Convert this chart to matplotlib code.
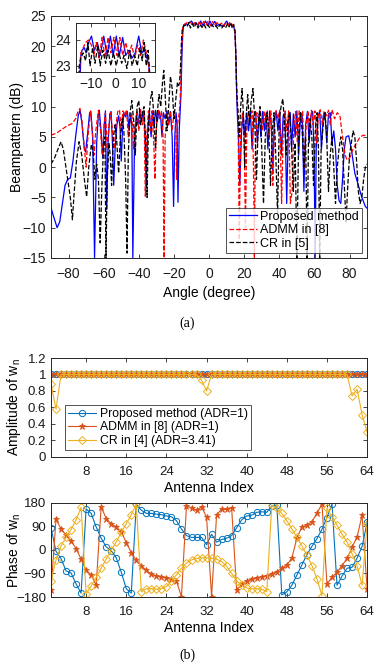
import matplotlib
matplotlib.use("Agg")
import matplotlib.pyplot as plt
import numpy as np

plt.rcParams['font.family'] = ['Liberation Sans', 'DejaVu Sans']
plt.rcParams['mathtext.fontset'] = 'custom'
plt.rcParams['mathtext.rm'] = 'Liberation Sans'
plt.rcParams['mathtext.it'] = 'Liberation Sans'

# ---- (a) beampattern (angle in degree, level in dB) ----
ang_prop = [-90, -88.5, -86.5, -85, -83.5, -82, -80.5, -79, -77.5, -76, -74.5, -73.5, -72.5, -71, -70.3,
            -69, -68, -67.3, -66.3, -65.2, -64, -63, -62.5, -61.5, -60.5, -59.7, -59, -58.3, -57.5, -56.5,
            -55.8, -55, -54.3, -53.5, -52.5, -51.5, -50.7, -50, -49.3, -48.5, -47.5, -46.5, -45.5, -44.8,
            -44, -43.4, -42.5, -41.5, -40.5, -39.5, -38.5, -37.5, -36.5, -35.8, -35, -34, -33, -32.2, -31.3,
            -30.5, -29.5, -28.5, -27.5, -26.8, -26, -25, -24, -23, -22, -21, -20.2, -19.5, -18.8, -18.2,
            -17.7, -17, -16.5, -16, -15.5, -15, -14.5,
            -14, -13, -12.3, -11.2, -10, -8.8, -7.5, -6.3, -4.8, -3.4, -2, -0.8, 0.5, 1.8, 3.2, 4.5, 5.8,
            7.2, 8.5, 10, 11.3, 12.5, 13.5, 14.3, 14.8, 15.3, 15.7, 16.2,
            16.8, 17.5, 18.5, 19.5, 20.5, 21.5, 22.5, 23.5, 24.5, 25.5, 26.5, 27.5, 28.5, 29.5, 30.5, 31.5,
            32.5, 33.5, 34.5, 35.5, 36.3, 37.2, 38.2, 39.2, 40.2, 41.2, 42.2, 43.2, 44.2, 45.2, 46.2, 47,
            48, 49, 50, 51, 52, 53, 54, 55, 56, 57, 58, 59, 59.8, 60.4, 61, 62, 63, 64, 65, 66, 67, 68, 69,
            70, 71, 72, 73, 74, 75, 76, 77, 78, 79.5, 81, 83, 85, 87, 89, 90]
bp_prop = [-6.7, -8.2, -10, -9, -6, -3, -2, -1.8, 1, 5, 8.5, 9.4, 7.5, 3, 2.5,
           6, 9, 9.2, 5, -15, 4, 8.8, 9.4, 6, 1.5, 7, 9.3, -7, 4, 8.8,
           9.2, 4, -3, 3, 7, 8.5, 6.5, 1, 6, 9, 8.3, 9.2, 6, 8.8,
           7, -15, 3, 8.5, 7, 9.2, 7.5, 9.3, 6, -3.5, 6, 9.3, 5, 9.3, 6.5,
           9.4, 7.5, 9.3, 8, 5, 9, 8, 9.3, 7, 9.2, 5, -6.5, 5, 9, 7,
           -5.8, 6, 9, 12, 18, 22, 23.4,
           23.6, 23.7, 23.5, 23.9, 24.15, 23.6, 23.9, 23.4, 24.15, 23.4, 24.15, 23.4, 24.15, 23.4, 24.1, 23.4, 23.6,
           23.3, 23.5, 24.15, 23.5, 23.6, 23.3, 23, 22, 18, 12, 8,
           5, -3, 6, 8.5, 5, 9, 6, 9.3, 3, 8.5, 9.2, 4, 8.8, 5, 9.2, 6,
           9, 3, 9.3, 7, -1, 8, 9.3, 6, 9.3, 2, 8.5, 9, -6, 7, 9, 3,
           8.8, 5, 9.3, 2, 8, 9, -4, 7, 9.2, 4, 8.5, 9.2, 2, -15, 3, 8.5, 9.2, 3, 8.5, 9, 4, 8.8, 9,
           4, 6, 3, -3, -5.5, -6, -2, 3, 5, 5.2, 3, -1, -3, -5, -6.5, -6.8]

ang_admm = [-90, -87, -84, -81, -78, -76, -74.5, -73.5, -72.5, -71, -70, -69, -67.5, -66.5, -65.5, -64.5,
            -63, -61.8, -60.8, -59.7, -59, -58, -57, -56, -55, -54, -53, -52, -51, -50, -49, -48, -47, -46,
            -45, -44, -43, -42, -41, -40, -39, -38, -37, -36.3, -35.5, -34.5, -33.5, -32.5, -31.5, -30.8,
            -30, -29, -28, -27, -26.2, -25.6, -25, -24, -23, -22, -21, -20, -19, -18.5, -18, -17, -16.5,
            -16, -15.5, -15, -14.5,
            -13.5, -12.5, -11.3, -10, -9, -8, -6.8, -5.5, -4.2, -3, -1.8, -0.5, 0.8, 2, 3.2, 4.5, 5.8, 7,
            8.3, 9.5, 10.8, 12, 13, 14, 14.7, 15.2, 15.6,
            16.5, 17.2, 18, 19, 20, 20.7, 21.5, 22.5, 23.5, 24.5, 25.3, 25.8, 26.3, 27.2, 28.2, 29.2, 30.2,
            31.2, 32.2, 33.2, 34.2, 35.2, 36.3, 37.2, 38.2, 39.2, 40.2, 41.3, 42.3, 43.3, 44.3, 45.3, 46.3,
            47.3, 48.3, 49.3, 50.3, 51.3, 52.3, 53.3, 54.3, 55.3, 56.3, 57.3, 58.3, 59.3, 60.3, 61.3, 62.3,
            63.3, 64.5, 65.5, 67, 68, 69, 70, 71.5, 73, 74.5, 76, 77.5, 78.5, 80, 82, 84, 86, 88, 90]
bp_admm = [5.3, 5.6, 6.2, 6.8, 7.2, 8, 9.3, 9.7, 8, 3, 0, 5, 9.3, 6, 2, 6,
           9.4, 6, 2, 7, 9, 3, 7, 9, 6, 3, 7, 9.2, 9.5, 6, 9.3, 8.5, 9.5, 5,
           8, 9, 3, 7, 9.3, 6, 9.5, 7, 9.3, -4.8, 5, 9.3, 6, 9.3, 4, -2,
           7, 9.4, 8, 9.3, 5, -15, 5, 9, 7, 9.3, 6, 9, 8, -2, 7, 9, 11,
           15, 20, 23, 23.5,
           23.7, 23.9, 24.0, 23.8, 23.4, 23.9, 23.3, 24.1, 23.3, 24.1, 23.5, 24.1, 23.4, 24.1, 23.4, 23.9, 23.4, 23.8,
           23.3, 23.8, 23.4, 24, 23.6, 23.2, 22.5, 19, 14,
           8, -12, 6, 9, 5, -10, 6, 9.3, 8, 9.3, 0, -15, 2, 9, 8, 9.4, 6,
           9.3, 7, 9.3, 5, 9.3, -3, 7, 9.3, 8, 9.4, -6, 7, 9.3, 6, 9.3, -6,
           -4, 7, 9.2, 4, 9.3, 8, 9.2, 0, 7, 9.3, 6, 9.4, 7, 9.3, 4, 9,
           9.5, 7, 9.3, 8.5, 9.4, 7, 9.5, 8, 9, 8.5, 5, 2, 1.2, 1.5, 3, 4, 5, 5.3, 5.1]

ang_cr = [-90, -88, -86, -84.3, -83, -81, -79, -77.8, -77, -75.5, -74, -72.5, -71, -69.7, -68.5, -67, -66,
          -65, -64, -63, -62, -61, -60, -59.3, -58.7, -58, -57, -56.3, -55.5, -54.5, -53.5, -52.5, -51.5,
          -50.5, -49.5, -48.5, -47.5, -46.7, -46, -45, -44, -43, -42, -41, -40, -39, -38, -37, -36, -35.3,
          -34.5, -33.5, -32.5, -31.5, -30.5, -29.5, -28.5, -27.5, -26.5, -25.8, -25, -24, -23, -22, -21,
          -20, -19, -18, -17.3, -16.8, -16.2, -15.7, -15.2, -14.5,
          -13.5, -12.5, -11.5, -10.6, -9.5, -8.5, -7.3, -6.3, -5.2, -4, -3, -1.8, -0.7, 0.5, 1.6, 2.8, 3.8,
          5, 6.2, 7.2, 8.3, 9.4, 10.5, 11.5, 12.3, 13.2, 14, 14.8, 15.3, 15.8,
          16.5, 17.2, 18, 18.8, 19.5, 20.3, 21, 22, 23, 24, 25, 26, 27, 28, 29, 30, 31, 32, 33, 34, 35,
          36, 37, 38, 39, 40, 41, 42, 43, 44, 45, 46, 47, 48, 49, 50, 51, 52, 53, 54, 55, 55.8, 56.6,
          57.5, 58.5, 59.5, 60.5, 61.5, 62.3, 63, 63.8, 65, 66, 67, 68, 69, 70, 71, 72, 73, 74, 75, 76,
          77, 78, 79, 80, 81, 82, 83, 84, 85, 86, 87, 88, 89, 90]
bp_cr = [0.5, 1.5, 3, 4.2, 3, -1, -5, -8.7, -5, 1, 4.2, 2, -2, -4.9, 0, 3.8, 2.5,
         -2, 0.5, -2, -12.5, -3, 4, 5, -15, -2, 4, 2, -3, 5, 7, 4, -1,
         5, 8, 6, -2, -14.2, 2, 9, 11, 8, 2, 10, 11, 7, 9, 10, 3, -5,
         7, 11, 12.5, 9, 3, 9, 12, 10, 14, 16, 12, 6, 10, 15, 13,
         8, 11, 14, 13.5, 14, 17, 21, 23, 23.3,
         23.5, 23.2, 23.9, 23.0, 23.7, 23.1, 23.8, 23.0, 23.6, 23.1, 23.6, 23.0, 23.5, 23.0, 23.5, 23.1, 23.4,
         22.9, 23.6, 23.0, 23.4, 23.0, 23.7, 23.2, 23.9, 23.0, 23.6, 22.5, 18, 12,
         9, 5, 10, 13, 9, 0, 8, 12, 7, 11, 13, 8, -2, 7, 10, 3, -6, 5, 9, 6, -3,
         6, 9, 2, -8, 8, 10, 11.3, 7, 2, 8, 9, 3, -4, 4, -15, 5, 9, 6, 0, 5, -15, 4,
         8, 5, -3, 6, 9, 3, -15, 3, 7, 9, 5, -4, 2, 5, 0, -6, 0, 3, 5, 3,
         -3, -9, -3, 2, 4, 6, 5, 1, -4, -6, -5, -2, 0, 0.5]

# ---- (b) weights per antenna ----
antenna = np.arange(1, 65)
amp_prop = [1.0] * 64
amp_admm = [1.0] * 64
amp_cr = [0.88, 0.58] + [1.0] * 28 + [0.93, 0.80] + [1.0] * 28 + [0.74, 0.82, 0.51, 0.30]

phase_prop = [85, -5, -33, -80, -88, -130, -165, 157, 140, 88, 45, 12, -3, -30, -85, -148,
              -165, 175, 152, 140, 140, 137, 135, 130, 127, 112, 80, 55, 48, 48, 48, 20,
              60, 30, 40, 45, 55, 85, 115, 130, 133, 144, 146, 144, 168, 172, -172, -160,
              -135, -96, -57, -18, 14, 43, 79, 124, 176, -135, -100, -70, -66, -31, 14, 105]
phase_admm = [-155, 118, 80, 58, 35, 5, -35, -78, -95, -135, 165, 120, 100, 88, 70, 28,
              -10, -40, -60, -78, -92, -100, -103, -106, -110, -120, -178, 170, 160, 152, 165, 125,
              -178, 133, 157, 155, 160, -155, -130, -118, -112, -108, -103, -98, -92, -83, -70, -57,
              -31, 45, 88, 95, 108, 140, 176, -130, -105, -85, -60, -32, 10, 50, 133, -150]
phase_cr = [-118, -38, 15, 48, 78, 115, 163, -168, -138, -105, -70, -35, 0, 30, 68, 100,
            135, 176, -160, -148, -148, -150, -148, -140, -120, -95, -70, -50, -38, -32, -30, -30,
            -32, -35, -45, -62, -90, -118, -135, -145, -148, -148, -150, -160, 172, 160, 140, 112,
            80, 50, 15, -20, -60, -110, -175, 160, 125, 95, 60, 30, -15, -60, -135, 100]

c_blue = '#0072BD'
c_orange = '#D95319'
c_yellow = '#EDB120'
edge = '#262626'


def style(ax, fs, pad=3.5):
    for s in ax.spines.values():
        s.set_color(edge)
        s.set_linewidth(0.7)
    ax.tick_params(direction='in', length=3, width=0.6, colors=edge, labelsize=fs,
                   top=True, right=True, labelcolor='#1a1a1a')
    ax.tick_params(axis='x', pad=pad)


fig = plt.figure(figsize=(3.75, 6.63), dpi=100)

# (a) beampattern
ax1 = fig.add_axes([0.136, 0.611, 0.843, 0.365])
ax1.plot(ang_prop, bp_prop, '-', color='blue', lw=0.9, label='Proposed method')
ax1.plot(ang_admm, bp_admm, '--', color='red', lw=0.9, label='ADMM in [8]')
ax1.plot(ang_cr, bp_cr, '--', color='black', lw=0.9, label='CR in [5]')
ax1.set_xlim(-90, 90)
ax1.set_ylim(-15, 25)
ax1.set_xticks(range(-80, 81, 20))
ax1.set_yticks(range(-15, 26, 5))
style(ax1, 10, pad=6.5)
ax1.set_xlabel('Angle (degree)', fontsize=10, labelpad=4)
ax1.set_ylabel('Beampattern (dB)', fontsize=10)
ax1.yaxis.set_label_coords(-0.086, 0.5)
leg1 = ax1.legend(loc='lower right', fontsize=9, frameon=True, fancybox=False,
                  edgecolor=edge, borderpad=0.25, labelspacing=0.12, handlelength=2.2,
                  handletextpad=0.3, borderaxespad=0.4)
leg1.get_frame().set_linewidth(0.7)

# inset: main lobe ripple
axi = fig.add_axes([0.203, 0.891, 0.211, 0.074])
axi.plot(ang_prop, bp_prop, '-', color='blue', lw=0.9)
axi.plot(ang_admm, bp_admm, '--', color='red', lw=0.9)
axi.plot(ang_cr, bp_cr, '--', color='black', lw=0.9)
axi.set_xlim(-16.5, 17)
axi.set_ylim(22.75, 24.65)
axi.set_xticks([-10, 0, 10])
axi.set_yticks([23, 24])
style(axi, 10)

fig.text(0.5, 1 - 323 / 663, '(a)', ha='center', va='center', fontsize=10, family='Liberation Serif')

# (b) amplitude
ax2 = fig.add_axes([0.136, 0.311, 0.843, 0.149])
ax2.plot(antenna, amp_prop, '-o', color=c_blue, lw=0.8, ms=4.5, mfc='none', mew=0.7,
         label='Proposed method (ADR=1)')
ax2.plot(antenna, amp_admm, '-*', color=c_orange, lw=0.8, ms=4.5, mew=0.6,
         label='ADMM in [8] (ADR=1)')
ax2.plot(antenna, amp_cr, '-D', color=c_yellow, lw=0.8, ms=3.8, mfc='none', mew=0.7,
         label='CR in [4] (ADR=3.41)')
ax2.set_xlim(1, 64)
ax2.set_ylim(0, 1.2)
ax2.set_xticks(range(8, 65, 8))
ax2.set_yticks(np.arange(0, 1.21, 0.2))
ax2.set_yticklabels(['0', '0.2', '0.4', '0.6', '0.8', '1', '1.2'])
style(ax2, 9.5, pad=6.5)
ax2.set_xlabel('Antenna Index', fontsize=10, labelpad=2)
ax2.set_ylabel('Amplitude of w$_n$', fontsize=10)
ax2.yaxis.set_label_coords(-0.088, 0.5)
leg2 = ax2.legend(loc='lower left', bbox_to_anchor=(0.045, 0.07), fontsize=8.8, frameon=True,
                  fancybox=False, edgecolor=edge, borderpad=0.25, labelspacing=0.12,
                  handlelength=2.3, handletextpad=0.3, borderaxespad=0.0)
leg2.get_frame().set_linewidth(0.7)

# (b) phase
ax3 = fig.add_axes([0.136, 0.0995, 0.843, 0.142])
ax3.plot(antenna, phase_prop, '-o', color=c_blue, lw=0.8, ms=4.5, mfc='none', mew=0.7)
ax3.plot(antenna, phase_admm, '-*', color=c_orange, lw=0.8, ms=4.5, mew=0.6)
ax3.plot(antenna, phase_cr, '-D', color=c_yellow, lw=0.8, ms=3.8, mfc='none', mew=0.7)
ax3.set_xlim(1, 64)
ax3.set_ylim(-180, 180)
ax3.set_xticks(range(8, 65, 8))
ax3.set_yticks([-180, -90, 0, 90, 180])
style(ax3, 9.5, pad=6.5)
ax3.set_xlabel('Antenna Index', fontsize=10, labelpad=2)
ax3.set_ylabel('Phase of w$_n$', fontsize=10)
ax3.yaxis.set_label_coords(-0.088, 0.5)

fig.text(0.5, 1 - 655 / 663, '(b)', ha='center', va='center', fontsize=10, family='Liberation Serif')

fig.savefig('out.png', dpi=100, facecolor='white')
